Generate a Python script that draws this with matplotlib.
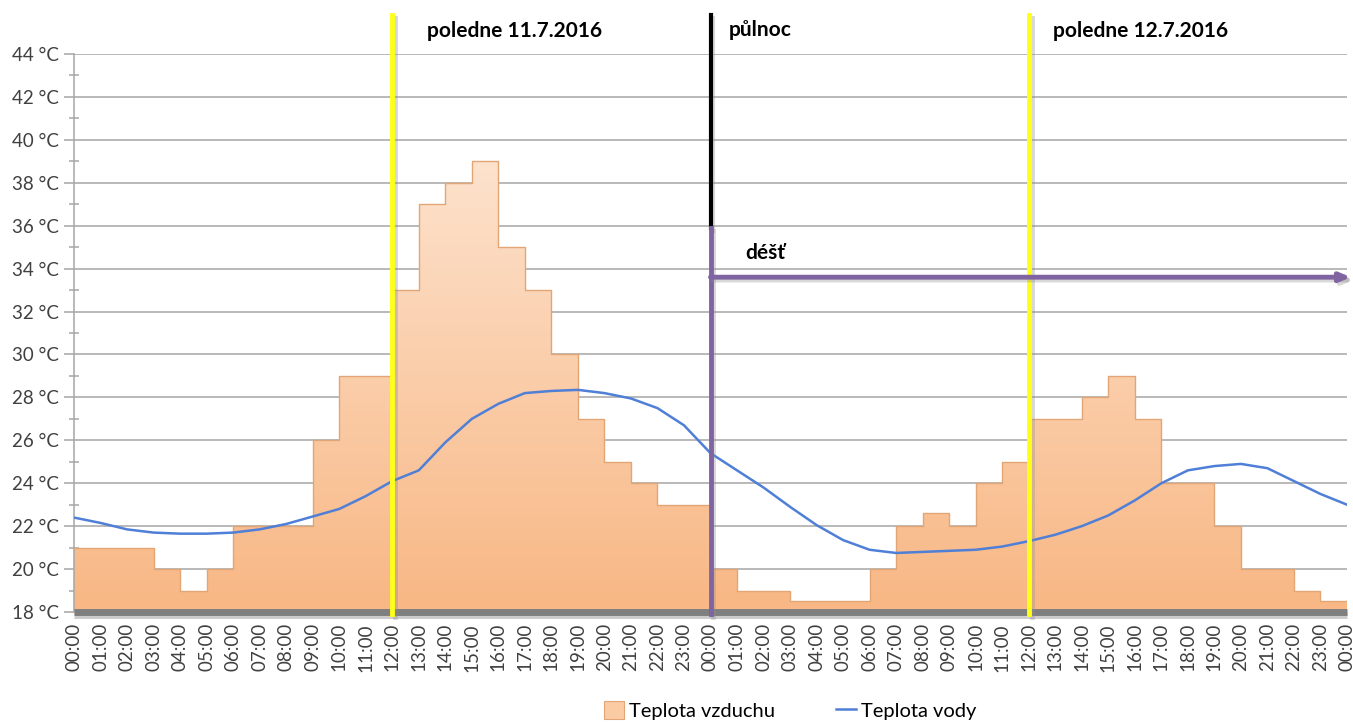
import numpy as np
import matplotlib
matplotlib.use("Agg")
import matplotlib.pyplot as plt
from matplotlib import patheffects as pe
from matplotlib.patches import Rectangle
from matplotlib.lines import Line2D

plt.rcParams['font.family'] = ['Lato', 'DejaVu Sans']

# hourly labels 00:00 (11.7.) .. 00:00 (13.7.)
hours = [ "%02d:00" % (h % 24) for h in range(49)]

# teplota vzduchu, value valid from hour h to h+1
air = [21, 21, 21, 20, 19, 20, 22, 22, 22, 26, 29, 29,
       33, 37, 38, 39, 35, 33, 30, 27, 25, 24, 23, 23,
       20, 19, 19, 18.5, 18.5, 18.5, 20, 22, 22.6, 22, 24, 25,
       27, 27, 28, 29, 27, 24, 24, 22, 20, 20, 19, 18.5]

# teplota vody, hourly
water = [22.4, 22.15, 21.85, 21.7, 21.65, 21.65, 21.7, 21.85, 22.1, 22.45, 22.8, 23.4,
         24.1, 24.6, 25.9, 27.0, 27.7, 28.2, 28.3, 28.35, 28.2, 27.95, 27.5, 26.7,
         25.4, 24.6, 23.8, 22.9, 22.05, 21.35, 20.9, 20.75, 20.8, 20.85, 20.9, 21.05,
         21.3, 21.6, 22.0, 22.5, 23.2, 24.0, 24.6, 24.8, 24.9, 24.7, 24.1, 23.5, 23.0]

yticks = list(range(18, 45, 2))

fig = plt.figure(figsize=(13.53, 7.22), dpi=100, facecolor='w')
ax = fig.add_axes([74/1353, 1-612/722, (1347-74)/1353, (612-54)/722])

x = np.arange(49)
y_step = air + [air[-1]]

ax.set_xlim(0, 48)
ax.set_ylim(18, 44)

# gridlines
for v in yticks:
    ax.axhline(v, color='#a6a6a6', lw=1.1, zorder=1)

# gradient area
poly = ax.fill_between(x, 18, y_step, step='post', color='none', zorder=2)
grad = np.linspace(0, 1, 256).reshape(-1, 1)
cm = matplotlib.colors.LinearSegmentedColormap.from_list('g', ['#f8b784', '#fde4d0'])
im = ax.imshow(grad, extent=[0, 48, 18, 40], origin='lower', aspect='auto', cmap=cm, zorder=2)
im.set_clip_path(poly.get_paths()[0], transform=ax.transData)
ax.step(x, y_step, where='post', color='#e2a676', lw=1.0, zorder=3)

# water line
ax.plot(x, water, color='#4f7fd6', lw=1.8, zorder=5)

shadow = [pe.SimpleLineShadow(offset=(2, -2), shadow_color='#909090', alpha=0.35), pe.Normal()]

# vertical markers
ax.plot([12, 12], [17.9, 45.8], color='#ffff1a', lw=3.5, zorder=6, clip_on=False, path_effects=shadow)
ax.plot([36, 36], [17.9, 45.8], color='#ffff1a', lw=3.5, zorder=6, clip_on=False, path_effects=shadow)
ax.plot([24, 24], [35.9, 45.8], color='black', lw=3, zorder=6, clip_on=False, path_effects=shadow)
ax.plot([24, 24], [17.9, 35.9], color='#8064a2', lw=3.5, zorder=6, clip_on=False, path_effects=shadow)
ax.annotate('', xy=(48.15, 33.6), xytext=(24, 33.6), zorder=6, annotation_clip=False,
            arrowprops=dict(arrowstyle='-|>,head_length=0.6,head_width=0.25', color='#8064a2', lw=3.5,
                            shrinkA=0, shrinkB=0, path_effects=shadow))

ax.text(13.3, 45.05, 'poledne 11.7.2016', fontsize=15, fontweight='bold', va='center', zorder=7)
ax.text(24.7, 45.1, 'půlnoc', fontsize=15, fontweight='bold', va='center', zorder=7)
ax.text(36.9, 45.05, 'poledne 12.7.2016', fontsize=15, fontweight='bold', va='center', zorder=7)
ax.text(25.3, 34.75, 'déšť', fontsize=15, fontweight='bold', va='center', zorder=7)

# x axis bar
ax.plot([0, 48], [18, 18], color='#7f7f7f', lw=5, zorder=4, clip_on=False, solid_capstyle='butt',
        path_effects=[pe.SimpleLineShadow(offset=(0, -2), shadow_color='#999999', alpha=0.5), pe.Normal()])

for s in ['top', 'right', 'bottom']:
    ax.spines[s].set_visible(False)
ax.spines['left'].set_color('#a6a6a6')
ax.spines['left'].set_linewidth(1.1)

ax.set_yticks(yticks)
ax.set_yticklabels(['%d °C' % v for v in yticks], fontsize=13.5, color='#404040')
ax.set_yticks(range(19, 44, 2), minor=True)
ax.tick_params(axis='y', which='major', length=7, color='#a6a6a6', width=1.1, pad=4)
ax.tick_params(axis='y', which='minor', length=7, color='#a6a6a6', width=1.1, direction='inout')

ax.set_xticks(x)
ax.set_xticklabels(hours, rotation=90, fontsize=13.5, color='#404040')
ax.tick_params(axis='x', length=0, pad=8)

handles = [Rectangle((0, 0), 1, 1, facecolor='#fbcba3', edgecolor='#e2a676', lw=0.8),
           Line2D([], [], color='#4f7fd6', lw=1.8)]
fig.legend(handles, ['Teplota vzduchu', 'Teplota vody'], loc='center', bbox_to_anchor=(0.584, 0.016),
           ncol=2, frameon=False, fontsize=14.5, handlelength=1.0, handleheight=1.0,
           columnspacing=3.0, handletextpad=0.25)

fig.savefig('out.png', dpi=100, facecolor='w')
